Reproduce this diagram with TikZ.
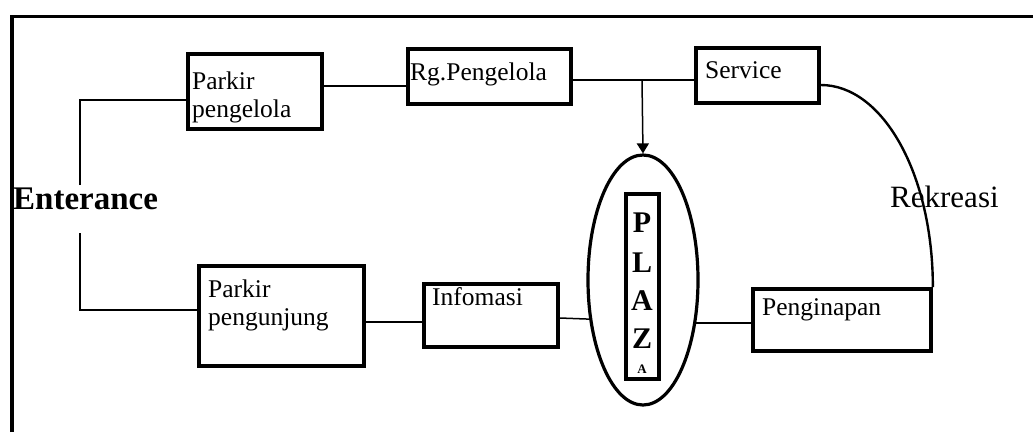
\documentclass[tikz,border=0pt]{standalone}
\usepackage{fontspec}
\setmainfont{Liberation Serif}
\usetikzlibrary{arrows.meta,shapes.geometric,calc}
\begin{document}
\begin{tikzpicture}[x=1pt,y=-1pt,
  boxn/.style={draw,line width=3.7pt,inner sep=0pt},
  conn/.style={line width=1.5pt},
  lbl/.style={inner sep=0pt,anchor=base west,font=\fontsize{25.5}{27.5}\selectfont,align=left},
  plz/.style={inner sep=0pt,anchor=base,font=\bfseries\fontsize{30}{30}\selectfont}]
\useasboundingbox (0,0) rectangle (1033,432);
% frame
\draw[line width=3.7pt] (12,432) -- (12,16.5) -- (1033,16.5);
% boxes
\node[boxn,minimum width=134pt,minimum height=75pt] (ppeng) at (255,91.5) {};
\node[boxn,minimum width=163pt,minimum height=55pt] (rg) at (489.5,76.5) {};
\node[boxn,minimum width=123pt,minimum height=55pt] (serv) at (757.5,75.5) {};
\node[boxn,minimum width=165pt,minimum height=100pt] (ppung) at (281.5,316) {};
\node[boxn,minimum width=134pt,minimum height=63pt] (info) at (491,315.5) {};
\node[boxn,minimum width=178pt,minimum height=62pt] (peng) at (842,320) {};
\node[draw,ellipse,line width=3.2pt,inner sep=0pt,minimum width=110pt,minimum height=250pt] (ell) at (643,280) {};
\node[draw,line width=3.2pt,inner sep=0pt,minimum width=33pt,minimum height=185pt] (plaza) at (642.5,286.5) {};
% labels
\node[lbl] (tppeng) at (192,117) {Parkir\\pengelola};
\node[lbl] (trg) at (410,80) {Rg.Pengelola};
\node[lbl] (tserv) at (705,78) {Service};
\node[lbl] (tppung) at (208,325) {Parkir\\pengunjung};
\node[lbl] (tinfo) at (432,305) {Infomasi};
\node[lbl] (tpeng) at (762,315) {Penginapan};
\node[inner sep=0pt,anchor=base west,font=\fontsize{31}{31}\selectfont] (trek) at (890,207) {Rekreasi};
\node[inner sep=0pt,anchor=base west,font=\bfseries\fontsize{33}{33}\selectfont] (tent) at (13,209) {Enterance};
\node[plz] (p1) at (642,232) {P};
\node[plz] (p2) at (642,272) {L};
\node[plz] (p3) at (642,310) {A};
\node[plz] (p4) at (642,348) {Z};
\node[plz,font=\bfseries\fontsize{13}{13}\selectfont] (p5) at (642,373) {A};
% connectors
\coordinate (et) at (80,185);
\coordinate (eb) at (80,233);
\coordinate (j) at (642,80);
\draw[conn] (et) |- ([yshift=-8.5pt]ppeng.west);
\draw[conn] (eb) |- ([yshift=6pt]ppung.west);
\draw[conn] ([yshift=5.5pt]ppeng.east) -- ([yshift=5.5pt]ppeng.east -| rg.west);
\draw[conn] ([yshift=-3.5pt]rg.east) -- ([yshift=-3.5pt]rg.east -| serv.west);
\draw[conn,-{Triangle[width=12pt,length=10pt]}] (j) -- (ell.north);
\draw[conn] ([yshift=-6pt]ppung.east) -- ([yshift=-6pt]ppung.east -| info.west);
\draw[conn] ([yshift=-2.5pt]info.east) -- (ell.216);
\draw[conn] (ell.-39) -- (ell.-39 -| peng.west);
\draw[line width=2.4pt] ([yshift=-9.5pt]serv.east) .. controls +(62,0) and +(0,-113) .. (peng.north east);
\end{tikzpicture}
\end{document}
